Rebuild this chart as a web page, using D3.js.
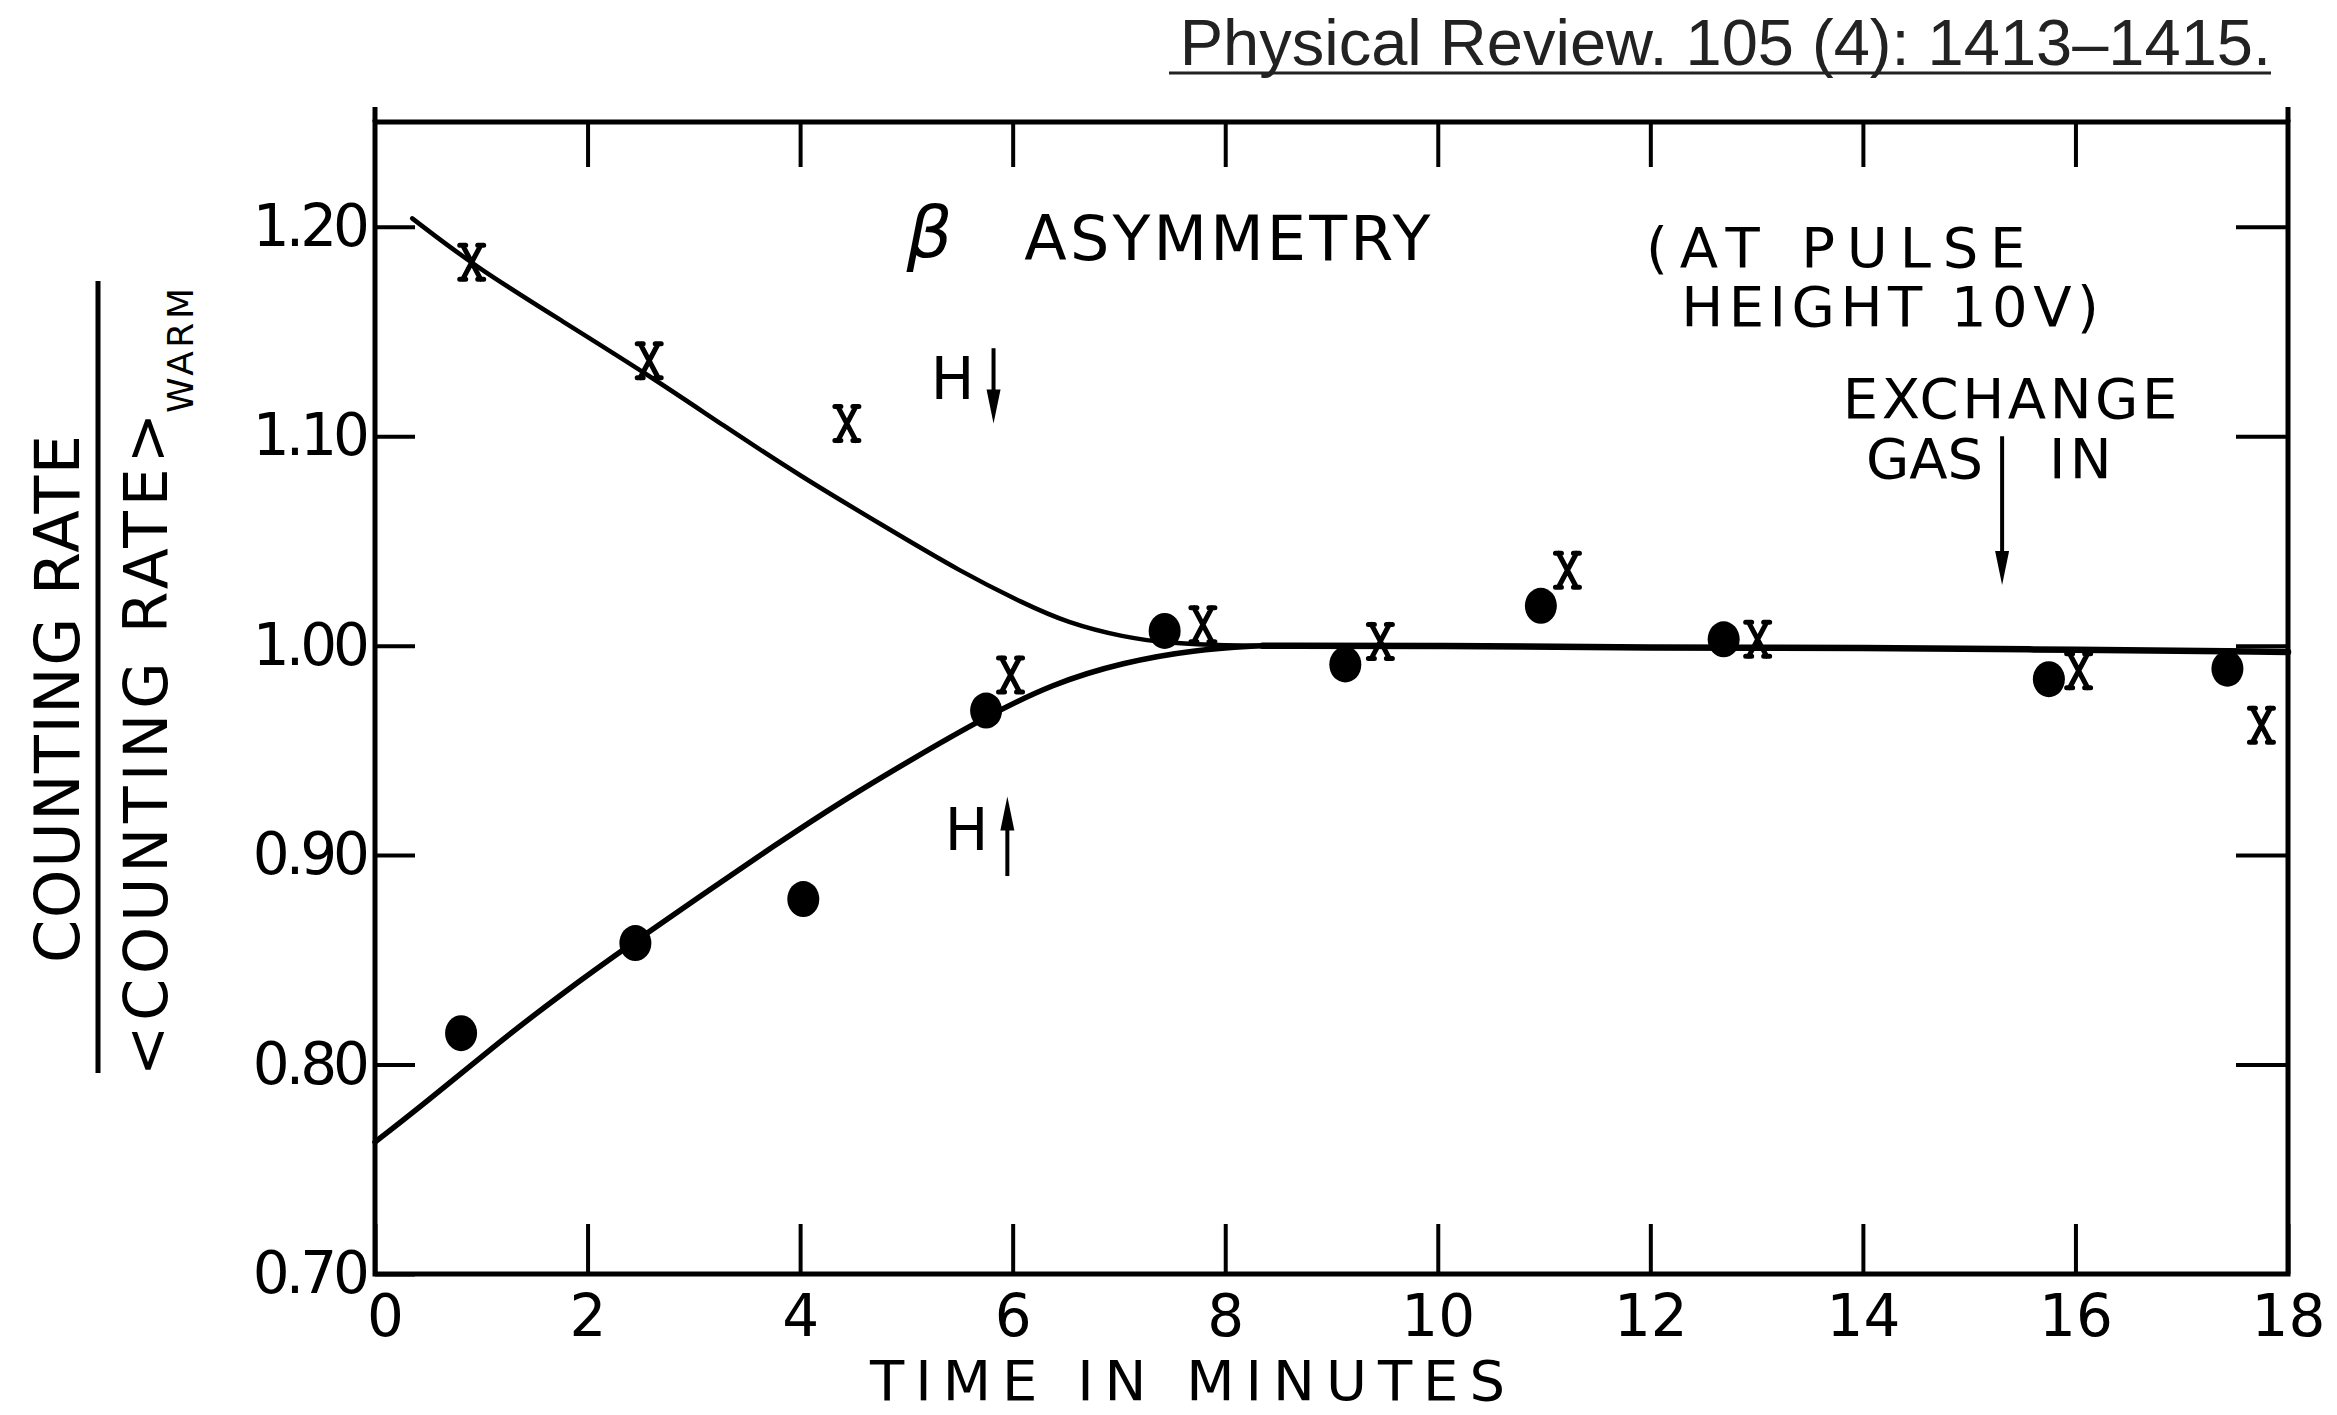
<!DOCTYPE html>
<html>
<head>
<meta charset="utf-8">
<script src="https://cdn.jsdelivr.net/npm/d3@7"></script>
<style>
  html, body { margin: 0; padding: 0; background: #fff; }
  svg { display: block; }
</style>
</head>
<body>
<svg id="graph" width="2337" height="1415"></svg>
<script>
// valeurs (temps en minutes, rapport des taux de comptage)
var xTicks = [0, 2, 4, 6, 8, 10, 12, 14, 16, 18];
var yTicks = [0.70, 0.80, 0.90, 1.00, 1.10, 1.20];
var yTickLabels = ["0.70", "0.80", "0.90", "1.00", "1.10", "1.20"];

// points ronds (H vers le haut)
var dotX = [0.81, 2.45, 4.03, 5.75, 7.43, 9.13, 10.97, 12.69, 15.75, 17.43];
var dotY = [0.815, 0.858, 0.879, 0.969, 1.007, 0.991, 1.019, 1.003, 0.984, 0.989];

// croix (H vers le bas)
var crossX = [0.91, 2.58, 4.44, 5.98, 7.79, 9.46, 11.22, 13.01, 16.03, 17.75];
var crossY = [1.183, 1.136, 1.106, 0.986, 1.010, 1.002, 1.036, 1.003, 0.988, 0.962];

// courbe du haut
var upX = [0.35, 0.94, 1.76, 2.58, 3.28, 4.00, 4.79, 5.52, 6.11, 6.51, 7.04, 7.50, 8.03, 8.35];
var upY = [1.204, 1.181, 1.155, 1.129, 1.105, 1.081, 1.057, 1.035, 1.020, 1.011, 1.004, 1.001, 1.000, 1.000];

// courbe du bas
var lowX = [0.00, 0.48, 1.10, 1.76, 2.45, 3.08, 3.74, 4.40, 5.06, 5.71, 6.38, 7.04, 7.70, 8.35];
var lowY = [0.763, 0.782, 0.808, 0.834, 0.859, 0.881, 0.904, 0.926, 0.946, 0.965, 0.982, 0.992, 0.998, 1.000];

// partie commune (plateau)
var tailX = [8.35, 10, 12, 14, 16, 18];
var tailY = [1.000, 1.000, 0.999, 0.999, 0.998, 0.997];

// fleches : x, y depart, y pointe
var arrowX = [5.82, 5.95, 15.31];
var arrowFrom = [1.142, 0.890, 1.100];
var arrowTo = [1.106, 0.928, 1.029];

// textes dans le cadre : texte, x debut, x fin, y ligne de base, taille
var noteText = ["ASYMMETRY", "(AT PULSE", "HEIGHT 10V)", "EXCHANGE", "GAS", "IN", "H", "H"];
var noteX0 = [6.11, 11.96, 12.29, 13.81, 14.03, 15.75, 5.23, 5.36];
var noteX1 = [9.93, 15.53, 16.22, 16.96, 15.13, 16.34, 5.56, 5.65];
var noteY = [1.184, 1.181, 1.1526, 1.1087, 1.080, 1.080, 1.1177, 0.9024];
var noteSize = [62, 56, 56, 56, 56, 56, 58, 58];

var svg = d3.select("#graph");
var font = "'DejaVu Sans', sans-serif";

var scaleX = d3.scaleLinear().domain([0, 18]).range([375, 2288]);
var scaleY = d3.scaleLinear().domain([0.70, 1.25]).range([1274, 122]);

// reference en haut
svg.append("text")
  .attr("x", 2271).attr("y", 65)
  .attr("text-anchor", "end")
  .attr("font-family", "'Liberation Sans', Arial, sans-serif")
  .attr("font-size", 65)
  .attr("fill", "#222")
  .text("Physical Review. 105 (4): 1413\u20131415.");
svg.append("line")
  .attr("x1", 1169).attr("x2", 2271)
  .attr("y1", 73).attr("y2", 73)
  .attr("stroke", "#222").attr("stroke-width", 3);

// cadre
svg.append("rect")
  .attr("x", scaleX(0)).attr("y", scaleY(1.25))
  .attr("width", scaleX(18) - scaleX(0))
  .attr("height", scaleY(0.70) - scaleY(1.25))
  .attr("fill", "none").attr("stroke", "black").attr("stroke-width", 5);
// les montants depassent un peu en haut
[0, 18].forEach(function(v) {
  svg.append("line")
    .attr("x1", scaleX(v)).attr("x2", scaleX(v))
    .attr("y1", scaleY(1.25) - 15).attr("y2", scaleY(1.25))
    .attr("stroke", "black").attr("stroke-width", 5);
});

// axes
var gx = svg.append("g").attr("transform", "translate(0," + scaleY(0.70) + ")")
  .call(d3.axisBottom(scaleX).tickValues(xTicks).tickSize(-50).tickPadding(21).tickFormat(d3.format("d")));
var gy = svg.append("g").attr("transform", "translate(" + scaleX(0) + ",0)")
  .call(d3.axisLeft(scaleY).tickValues(yTicks).tickSize(-40).tickPadding(9)
    .tickFormat(function(d, i) { return yTickLabels[i]; }));
var gt = svg.append("g").attr("transform", "translate(0," + scaleY(1.25) + ")")
  .call(d3.axisTop(scaleX).tickValues(xTicks.slice(1, -1)).tickSize(-45).tickFormat(""));
var gr = svg.append("g").attr("transform", "translate(" + scaleX(18) + ",0)")
  .call(d3.axisRight(scaleY).tickValues(yTicks.slice(1)).tickSize(-52).tickFormat(""));

[gx, gy, gt, gr].forEach(function(g) {
  g.select(".domain").remove();
  g.selectAll(".tick line").attr("stroke", "black").attr("stroke-width", 4);
  g.attr("font-family", font).attr("font-size", 58);
  g.selectAll(".tick text").attr("fill", "black");
});
gy.selectAll(".tick text").attr("letter-spacing", -4);
// le "0" est un peu decale vers la droite sur l'original
gx.selectAll(".tick text").filter(function(d) { return d === 0; }).attr("dx", 10);

// titre axe X
svg.append("text")
  .attr("x", 870).attr("y", 1400)
  .attr("font-family", font).attr("font-size", 56)
  .attr("textLength", 635).attr("lengthAdjust", "spacing")
  .text("TIME IN MINUTES");

// titre axe Y (fraction)
svg.append("text")
  .attr("transform", "translate(79,699) rotate(-90)")
  .attr("text-anchor", "middle")
  .attr("font-family", font).attr("font-size", 62)
  .attr("textLength", 528).attr("lengthAdjust", "spacing")
  .text("COUNTING RATE");
svg.append("line")
  .attr("x1", 98).attr("x2", 98).attr("y1", 281).attr("y2", 1073)
  .attr("stroke", "black").attr("stroke-width", 5);
svg.append("text")
  .attr("transform", "translate(167,1076) rotate(-90)")
  .attr("font-family", font).attr("font-size", 60)
  .attr("textLength", 663).attr("lengthAdjust", "spacing")
  .text("<COUNTING RATE>");
svg.append("text")
  .attr("transform", "translate(193,413) rotate(-90)")
  .attr("font-family", font).attr("font-size", 36)
  .attr("textLength", 125).attr("lengthAdjust", "spacing")
  .text("WARM");

// courbes
var line = d3.line()
  .x(function(d) { return scaleX(d[0]); })
  .y(function(d) { return scaleY(d[1]); })
  .curve(d3.curveBasis);
function pairs(xs, ys) { return xs.map(function(v, i) { return [v, ys[i]]; }); }

var gCurves = svg.append("g").attr("fill", "none").attr("stroke", "black")
  .attr("stroke-linecap", "round").attr("stroke-linejoin", "round");
gCurves.append("path").attr("d", line(pairs(upX, upY))).attr("stroke-width", 4.5);
gCurves.append("path").attr("d", line(pairs(lowX, lowY))).attr("stroke-width", 5.5);
gCurves.append("path").attr("d", line(pairs(tailX, tailY))).attr("stroke-width", 6.5);

// points
svg.append("g").selectAll("ellipse")
  .data(pairs(dotX, dotY)).enter().append("ellipse")
  .attr("cx", function(d) { return scaleX(d[0]); })
  .attr("cy", function(d) { return scaleY(d[1]); })
  .attr("rx", 16).attr("ry", 18)
  .attr("fill", "black");

svg.append("g").selectAll("path")
  .data(pairs(crossX, crossY)).enter().append("path")
  .attr("transform", function(d) { return "translate(" + scaleX(d[0]) + "," + scaleY(d[1]) + ")"; })
  .attr("d", "M-9,-17 Q0,0 9,17 M9,-17 Q0,0 -9,17 M-6,-17 L-12,-17 M6,-17 L12,-17 M-6,17 L-12,17 M6,17 L12,17")
  .attr("fill", "none").attr("stroke", "black").attr("stroke-width", 5)
  .attr("stroke-linecap", "round");

// fleches
arrowX.forEach(function(ax, i) {
  var x = scaleX(ax), y0 = scaleY(arrowFrom[i]), y1 = scaleY(arrowTo[i]);
  var dir = y1 > y0 ? 1 : -1;
  svg.append("line")
    .attr("x1", x).attr("x2", x).attr("y1", y0).attr("y2", y1 - dir * 20)
    .attr("stroke", "black").attr("stroke-width", 4);
  svg.append("path")
    .attr("d", "M" + (x - 7) + "," + (y1 - dir * 34) + " L" + (x + 7) + "," + (y1 - dir * 34) + " L" + x + "," + y1 + " Z")
    .attr("fill", "black");
});

// textes
noteText.forEach(function(t, i) {
  var txt = svg.append("text")
    .attr("x", scaleX(noteX0[i])).attr("y", scaleY(noteY[i]))
    .attr("font-family", font).attr("font-size", noteSize[i])
    .text(t);
  if (t.length > 1) {
    txt.attr("textLength", scaleX(noteX1[i]) - scaleX(noteX0[i])).attr("lengthAdjust", "spacing");
  }
});
svg.append("text")
  .attr("x", scaleX(5.0)).attr("y", scaleY(1.1855))
  .attr("font-family", font).attr("font-size", 72).attr("font-style", "italic")
  .text("\u03B2");
</script>
</body>
</html>
